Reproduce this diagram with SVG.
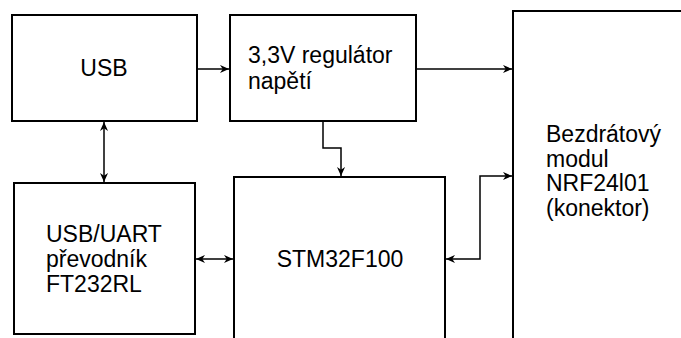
<svg xmlns="http://www.w3.org/2000/svg" width="681" height="338" viewBox="0 0 681 338">
<defs>
<marker id="arr" viewBox="0 0 10 10" refX="10" refY="5" markerWidth="9" markerHeight="9" markerUnits="userSpaceOnUse" orient="auto-start-reverse">
<path d="M0,0.5 L10,5 L0,9.5 L3,5 Z" fill="#000"/>
</marker>
<style>
.box{fill:#fff;stroke:#000;stroke-width:2}
.t{font-family:"Liberation Sans",Arial,sans-serif;font-size:23px;fill:#000}
.c{fill:none;stroke:#000;stroke-width:1.5}
</style>
</defs>
<rect width="681" height="338" fill="#fff"/>
<g id="usb">
<rect class="box" x="12" y="15" width="185" height="106"/>
<text class="t" x="104" y="76" text-anchor="middle">USB</text>
</g>
<g id="regulator">
<rect class="box" x="230" y="15" width="186" height="106"/>
<text class="t" x="248" y="63">3,3V regulátor</text>
<text class="t" x="248" y="89">napětí</text>
</g>
<g id="nrf">
<rect class="box" x="513" y="11" width="180" height="340"/>
<text class="t" x="546" y="142">Bezdrátový</text>
<text class="t" x="546" y="167">modul</text>
<text class="t" x="546" y="191">NRF24l01</text>
<text class="t" x="546" y="216">(konektor)</text>
</g>
<g id="uart">
<rect class="box" x="14" y="183" width="181" height="151"/>
<text class="t" x="46" y="242">USB/UART</text>
<text class="t" x="46" y="267">převodník</text>
<text class="t" x="46" y="292">FT232RL</text>
</g>
<g id="stm">
<rect class="box" x="234" y="177" width="211" height="175"/>
<text class="t" x="340" y="267" text-anchor="middle">STM32F100</text>
</g>
<g id="connectors">
<path class="c" d="M198,69 L229,69" marker-end="url(#arr)"/>
<path class="c" d="M417,69 L512,69" marker-end="url(#arr)"/>
<path class="c" d="M104,122 L104,182" marker-start="url(#arr)" marker-end="url(#arr)"/>
<path class="c" d="M323,122 L323,148 L341,148 L341,176" marker-end="url(#arr)"/>
<path class="c" d="M196,259 L233,259" marker-start="url(#arr)" marker-end="url(#arr)"/>
<path class="c" d="M446,259 L480,259 L480,176 L512,176" marker-start="url(#arr)" marker-end="url(#arr)"/>
</g>
</svg>
